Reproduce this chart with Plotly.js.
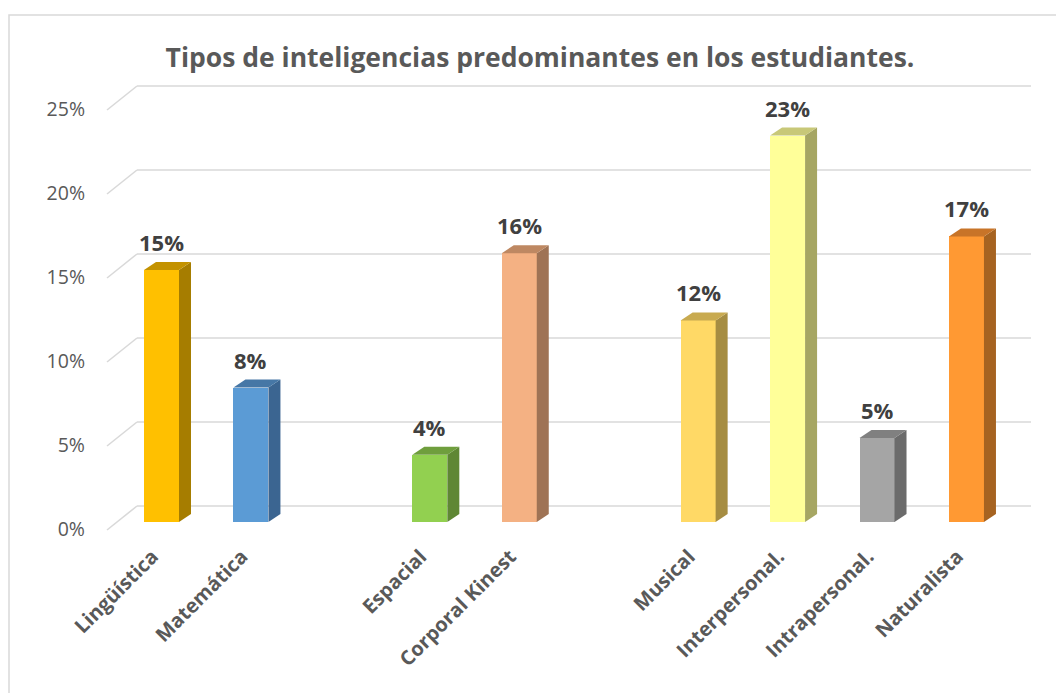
<!DOCTYPE html>
<html>
<head>
<meta charset="utf-8">
<script src="https://cdn.plot.ly/plotly-3.0.1.min.js"></script>
<style>html,body{margin:0;padding:0;background:#fff;}#chart{width:1056px;height:693px;}</style>
</head>
<body>
<div id="chart"></div>
<script>
// ---- data ----
const categories = ["Lingüística", "Matemática", "", "Espacial", "Corporal Kinest", "", "Musical", "Interpersonal.", "Intrapersonal.", "Naturalista"];
const values = [0.15, 0.08, null, 0.04, 0.16, null, 0.12, 0.23, 0.05, 0.17];
const valueLabels = ["15%", "8%", "", "4%", "16%", "", "12%", "23%", "5%", "17%"];
const yTickVals = [0, 0.05, 0.10, 0.15, 0.20, 0.25];
const yTickText = ["0%", "5%", "10%", "15%", "20%", "25%"];
const chartTitle = "Tipos de inteligencias predominantes en los estudiantes.";

// ---- styles ----
const frontColors = ["#FFC000", "#5B9BD5", null, "#92D050", "#F4B183", null, "#FFD966", "#FFFF99", "#A5A5A5", "#FF9933"];
const sideColors  = ["#A67D00", "#3B6591", null, "#5F8734", "#9F7355", null, "#A68D42", "#A6A663", "#6B6B6B", "#A66321"];
const topColors   = ["#C39200", "#4677A6", null, "#6F9E3D", "#BE8862", null, "#C8AA50", "#C8C878", "#808080", "#C87428"];
const FONT = '"Open Sans", sans-serif';

// ---- geometry (pixels) ----
const W = 1056, H = 693;
const plotL = 107, plotR = 1031, plotT = 80, plotB = 540;
const pw = plotR - plotL, ph = plotB - plotT;
const yPx = 1680;          // pixels per unit
const xPx = 89.44;         // pixels per category
const zeroPx = 522;        // pixel row of 0 on front plane
const firstPx = 161.5;     // pixel column of first category
const ymin = -(plotB - zeroPx) / yPx, ymax = ymin + ph / yPx;
const xmin = -(firstPx - plotL) / xPx, xmax = xmin + pw / xPx;
const barW = 35 / xPx;
const dX = 12 / xPx, dY = 8 / yPx;
const wallBack = 16 / yPx, floorFront = 8 / yPx;
const wallStartPaper = (137 - plotL) / pw;

const xs = categories.map((c, i) => i);

const shapes = [];
// chart border
shapes.push({type: 'rect', xref: 'paper', yref: 'paper',
  x0: (9 - plotL) / pw, x1: (1062 - plotL) / pw,
  y0: (plotB - 700) / ph, y1: (plotB - 15) / ph,
  line: {color: '#D9D9D9', width: 1.5}, layer: 'below'});
// gridlines: back wall + side wall
yTickVals.forEach(v => {
  shapes.push({type: 'line', xref: 'paper', yref: 'y', x0: wallStartPaper, x1: 1, y0: v + wallBack, y1: v + wallBack,
    line: {color: '#D9D9D9', width: 1.6}, layer: 'below'});
  shapes.push({type: 'line', xref: 'paper', yref: 'y', x0: 0, x1: wallStartPaper, y0: v - floorFront, y1: v + wallBack,
    line: {color: '#D9D9D9', width: 1.6}, layer: 'below'});
});
// 3D side and top faces
xs.forEach((x, i) => {
  const v = values[i];
  if (v === null) return;
  const xl = x - barW / 2, xr = x + barW / 2;
  shapes.push({type: 'path', xref: 'x', yref: 'y', layer: 'above',
    path: `M${xr},0 L${xr + dX},${dY} L${xr + dX},${v + dY} L${xr},${v} Z`,
    fillcolor: sideColors[i], line: {width: 0}});
  shapes.push({type: 'path', xref: 'x', yref: 'y', layer: 'above',
    path: `M${xl},${v} L${xl + dX},${v + dY} L${xr + dX},${v + dY} L${xr},${v} Z`,
    fillcolor: topColors[i], line: {width: 0}});
});

const annotations = xs.filter(i => values[i] !== null).map(i => ({
  x: i, y: values[i], xref: 'x', yref: 'y', text: valueLabels[i], showarrow: false,
  yanchor: 'middle', xanchor: 'center', yshift: 28,
  font: {family: FONT, size: 22, color: '#404040', weight: 'bold'}
}));

const trace = {
  type: 'bar', x: xs, y: values, width: barW,
  marker: {color: frontColors, line: {width: 0}},
  hoverinfo: 'skip'
};

const layout = {
  width: W, height: H,
  margin: {l: plotL, r: W - plotR, t: plotT, b: H - plotB, pad: 0},
  paper_bgcolor: '#ffffff', plot_bgcolor: 'rgba(0,0,0,0)',
  showlegend: false,
  title: {text: chartTitle, xref: 'container', yref: 'container', x: 540 / W, y: 1 - 58 / H,
    xanchor: 'center', yanchor: 'middle',
    font: {family: FONT, size: 26.5, color: '#595959', weight: 'bold'}},
  xaxis: {range: [xmin, xmax], tickmode: 'array', tickvals: xs, ticktext: categories,
    tickangle: -45, showgrid: false, zeroline: false, showline: false, ticks: '',
    ticklabelshift: -9,
    tickfont: {family: FONT, size: 20, color: '#595959', weight: 'bold'},
    fixedrange: true},
  yaxis: {range: [ymin, ymax], tickmode: 'array', tickvals: yTickVals, ticktext: yTickText,
    showgrid: false, zeroline: false, showline: false, ticks: '',
    ticklabelshift: 7, ticklabelstandoff: 21,
    tickfont: {family: FONT, size: 19.5, color: '#595959'},
    fixedrange: true},
  shapes: shapes,
  annotations: annotations,
  bargap: 0
};

Plotly.newPlot('chart', [trace], layout, {displayModeBar: false, staticPlot: true});
</script>
</body>
</html>
